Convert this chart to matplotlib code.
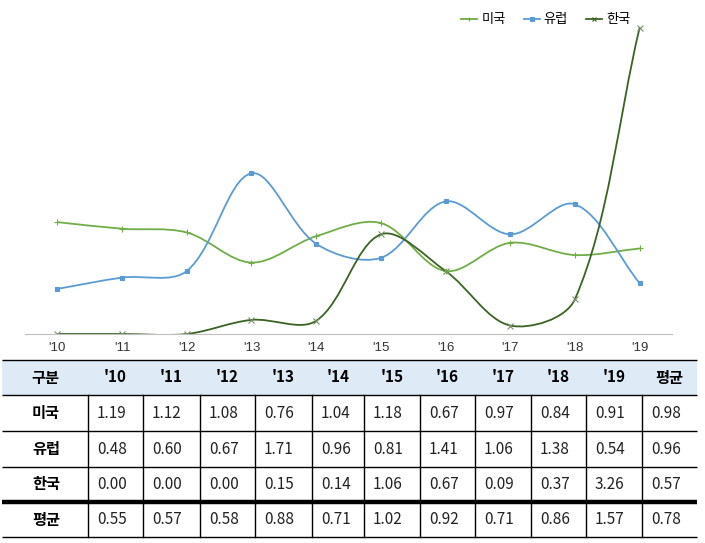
import matplotlib
matplotlib.use("Agg")
import matplotlib.pyplot as plt
from matplotlib.path import Path
from matplotlib.patches import PathPatch, Rectangle
from matplotlib.lines import Line2D

plt.rcParams['font.family'] = ['Noto Sans CJK KR', 'DejaVu Sans']

years = ["'10", "'11", "'12", "'13", "'14", "'15", "'16", "'17", "'18", "'19"]
series_names = ["미국", "유럽", "한국"]
usa = [1.19, 1.12, 1.08, 0.76, 1.04, 1.18, 0.67, 0.97, 0.84, 0.91]
europe = [0.48, 0.60, 0.67, 1.71, 0.96, 0.81, 1.41, 1.06, 1.38, 0.54]
korea = [0.00, 0.00, 0.00, 0.15, 0.14, 1.06, 0.67, 0.09, 0.37, 3.26]
avg_by_year = [0.55, 0.57, 0.58, 0.88, 0.71, 1.02, 0.92, 0.71, 0.86, 1.57]
row_avg = [0.98, 0.96, 0.57]
total_avg = 0.78

colors = ["#70AD47", "#5B9BD5", "#3B6324"]
markers = ["+", "s", "x"]

W, H = 705, 543
XSCALE, YSCALE = 64.7, 93.9  # pixels per x step / per y unit, used for smoothing


def smooth_path(xs, ys):
    # excel-like smoothed line: cubic bezier, tangents weighted by segment length
    n = len(xs)
    px = [v * XSCALE for v in xs]
    py = [v * YSCALE for v in ys]

    def dist(a, b):
        return ((px[a] - px[b]) ** 2 + (py[a] - py[b]) ** 2) ** 0.5

    def ctrl(i, j):
        # control point near point i, on segment towards neighbour j
        prev_i = max(i - 1, 0)
        next_i = min(i + 1, n - 1)
        d_prev = dist(prev_i, i)
        d_next = dist(i, next_i)
        tot = d_prev + d_next
        if tot == 0:
            return xs[i], ys[i]
        tx = xs[next_i] - xs[prev_i]
        ty = ys[next_i] - ys[prev_i]
        if j > i:
            f = d_next / tot / 3
            return xs[i] + tx * f, ys[i] + ty * f
        f = d_prev / tot / 3
        return xs[i] - tx * f, ys[i] - ty * f

    verts = [(xs[0], ys[0])]
    codes = [Path.MOVETO]
    for i in range(n - 1):
        verts += [ctrl(i, i + 1), ctrl(i + 1, i), (xs[i + 1], ys[i + 1])]
        codes += [Path.CURVE4] * 3
    return Path(verts, codes)


fig = plt.figure(figsize=(W / 100, H / 100), dpi=100)

# ---- chart ----
ax = fig.add_axes([25 / W, (H - 334) / H, 647 / W, 329 / H])
x = list(range(len(years)))
for name, vals, col, mk in zip(series_names, [usa, europe, korea], colors, markers):
    ax.add_patch(PathPatch(smooth_path(x, vals), fill=False, edgecolor=col, lw=1.3))
    ms = 3.5 if mk == "s" else 4
    mec = "#7A8F6A" if mk == "x" else col
    ax.plot(x, vals, linestyle="none", marker=mk, color=col, mec=mec, markersize=ms,
            markeredgewidth=0.8, label=name)
ax.set_xlim(-0.5, len(years) - 0.5)
ax.set_ylim(0, 3.5)
for s in ["top", "right", "left"]:
    ax.spines[s].set_visible(False)
ax.spines["bottom"].set_color("#BFBFBF")
ax.set_yticks([])
ax.set_xticks(x)
ax.set_xticklabels(years, family=["Liberation Sans"], fontsize=9.5, color="#333333")
ax.tick_params(axis="x", length=0, pad=6)
handles = [Line2D([0], [0], color=c, marker=m, markersize=3.5, lw=1.3, markeredgewidth=0.8)
           for c, m in zip(colors, markers)]
fig.legend(handles, series_names, loc="center", bbox_to_anchor=(546 / W, 1 - 20 / H),
           ncol=3, frameon=False, fontsize=9.5, handlelength=1.2, handletextpad=0.3,
           columnspacing=1.4)

# ---- table ----
tx = fig.add_axes([0, 0, 1, 1])
tx.set_xlim(0, W)
tx.set_ylim(H, 0)
tx.axis("off")

col_edges = [2, 88, 143, 200, 255, 312, 364, 420, 475, 531, 586, 642, 697]
row_edges = [360, 395, 431, 467, 502, 537]

tx.add_patch(Rectangle((col_edges[0], row_edges[0]), col_edges[-1] - col_edges[0],
                       row_edges[1] - row_edges[0], color="#DEEAF6", lw=0))
for i, yy in enumerate(row_edges):
    lw = 3.2 if i == 4 else 1.0
    tx.plot([col_edges[0], col_edges[-1]], [yy, yy], color="black", lw=lw,
            solid_capstyle="butt")
for xx in col_edges[1:-1]:
    tx.plot([xx, xx], [row_edges[1], row_edges[-1]], color="black", lw=1.0)

header = ["구분"] + years + ["평균"]
rows = [["미국"] + ["%.2f" % v for v in usa] + ["%.2f" % row_avg[0]],
        ["유럽"] + ["%.2f" % v for v in europe] + ["%.2f" % row_avg[1]],
        ["한국"] + ["%.2f" % v for v in korea] + ["%.2f" % row_avg[2]],
        ["평균"] + ["%.2f" % v for v in avg_by_year] + ["%.2f" % total_avg]]

for j, txt in enumerate(header):
    cx = (col_edges[j] + col_edges[j + 1]) / 2
    tx.text(cx, (row_edges[0] + row_edges[1]) / 2, txt, ha="center", va="center",
            fontsize=11, fontweight="bold", color="black")
for i, row in enumerate(rows):
    cy = (row_edges[i + 1] + row_edges[i + 2]) / 2
    for j, txt in enumerate(row):
        if j == 0:
            tx.text((col_edges[0] + col_edges[1]) / 2 + 1, cy, txt, ha="center", va="center",
                    fontsize=11, fontweight="bold", color="black")
        else:
            tx.text(col_edges[j] + 9, cy, txt, ha="left", va="center",
                    fontsize=11, color="#222222")

fig.savefig("out.png", dpi=100)
